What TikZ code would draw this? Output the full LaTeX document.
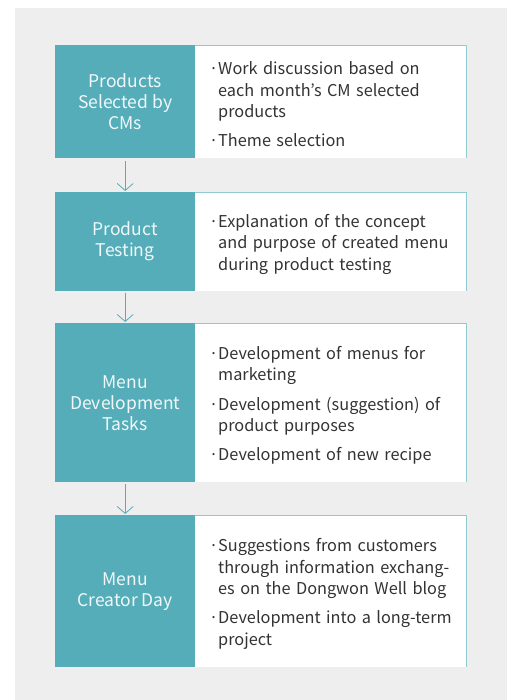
\documentclass[tikz,border=0pt]{standalone}
\usepackage{fontspec}
\setmainfont{Noto Sans CJK KR}
\usetikzlibrary{arrows.meta}
\definecolor{bggrey}{HTML}{EEEEEE}
\definecolor{teal1}{HTML}{55ADB9}
\definecolor{tealline}{HTML}{8FCAD3}
\definecolor{txtdark}{HTML}{333333}
\definecolor{txtlight}{HTML}{F0F8F9}
\newcommand{\bitem}[1]{\par\noindent\makebox[10pt][l]{\kern1pt·}\parbox[t]{235pt}{\raggedright #1}}
\newcommand{\bgap}{\par\vspace{11pt}}
\newcommand{\bend}{\par\vspace{3pt}}
\tikzset{
  x=1pt, y=-1pt,
  labelbox/.style={fill=teal1, text=txtlight, anchor=north west, minimum width=140pt,
    inner sep=0pt, align=center, font=\fontsize{17.5}{21}\selectfont},
  infobox/.style={fill=white, text=txtdark, anchor=north west, minimum width=271pt,
    inner xsep=13pt, inner ysep=0pt, text width=245pt, align=left,
    font=\fontsize{16.3}{21.5}\selectfont},
  flowarrow/.style={draw=teal1, line width=0.8pt, -{Straight Barb[length=7pt,width=16pt,line width=0.8pt]}}
}
\begin{document}
\begin{tikzpicture}
\useasboundingbox (0,0) rectangle (512,700);
\fill[bggrey] (15,8) rectangle (507,700);
% row 1
\node[labelbox, minimum height=113pt] (l1) at (55,45) {Products\\Selected by\\CMs};
\node[infobox, minimum height=113pt] (r1) at (195,45) {\bitem{Work discussion based on\\each month's CM selected\\products}\bgap\bitem{Theme selection}\bend};
% row 2
\node[labelbox, minimum height=99pt] (l2) at (55,192) {Product\\Testing};
\node[infobox, minimum height=99pt] (r2) at (195,192) {\bitem{Explanation of the concept\\and purpose of created menu\\during product testing}\bend};
% row 3
\node[labelbox, minimum height=159pt] (l3) at (55,323) {Menu\\Development\\Tasks};
\node[infobox, minimum height=159pt] (r3) at (195,323) {\bitem{Development of menus for\\marketing}\bgap\bitem{Development (suggestion) of\\product purposes}\bgap\bitem{Development of new recipe}\bend};
% row 4
\node[labelbox, minimum height=152pt] (l4) at (55,515) {Menu\\Creator Day};
\node[infobox, minimum height=152pt] (r4) at (195,515) {\bitem{Suggestions from customers\\through information exchang-\\es on the Dongwon Well blog}\bgap\bitem{Development into a long-term\\project}\bend};
% borders
\foreach \r in {r1,r2,r3,r4}
  \draw[tealline, line width=0.8pt] (\r.north west) -- (\r.north east) -- (\r.south east);
% arrows
\draw[flowarrow, shorten <=3pt, shorten >=1pt] (l1.south) -- (l2.north);
\draw[flowarrow, shorten <=2pt, shorten >=1pt] (l2.south) -- (l3.north);
\draw[flowarrow, shorten <=2pt, shorten >=1pt] (l3.south) -- (l4.north);
\end{tikzpicture}
\end{document}
